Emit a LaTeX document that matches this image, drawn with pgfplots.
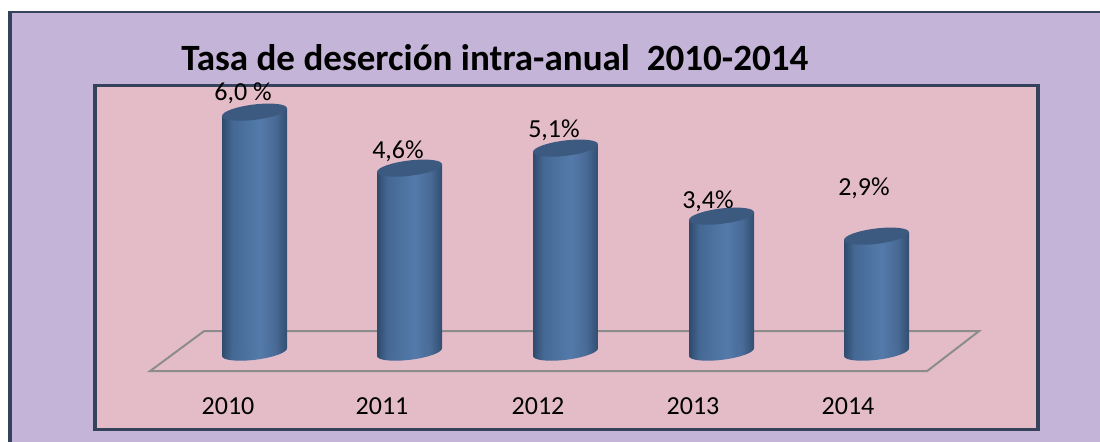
\documentclass[border=0pt]{standalone}
\usepackage{pgfplots}
\pgfplotsset{compat=1.18}
\usepackage{fontspec}
\setmainfont{Carlito}
\definecolor{lav}{RGB}{196,181,216}
\definecolor{rosa}{RGB}{227,188,200}
\definecolor{marco}{RGB}{52,66,92}
\definecolor{piso}{RGB}{140,140,140}
\definecolor{capc}{RGB}{60,90,128}
\definecolor{cyA}{RGB}{47,74,108}
\definecolor{cyB}{RGB}{69,104,148}
\definecolor{cyC}{RGB}{78,116,162}
\definecolor{cyD}{RGB}{84,122,171}
\definecolor{cyE}{RGB}{72,106,150}
\definecolor{cyF}{RGB}{50,78,112}
\pgfdeclarehorizontalshading{cyl}{100bp}{
  color(0bp)=(cyA);
  color(25bp)=(cyA);
  color(33bp)=(cyB);
  color(46bp)=(cyC);
  color(54bp)=(cyD);
  color(66bp)=(cyE);
  color(75bp)=(cyF);
  color(100bp)=(cyF)}
% tilted ellipses, 1 px = 0.75 pt
\pgfdeclareplotmark{topcap}{%
  \pgfpathellipse{\pgfpointorigin}{\pgfpoint{24.37pt}{3pt}}{\pgfpoint{-0.7pt}{5.7pt}}%
  \pgfusepathqfill}
\pgfdeclareplotmark{basecap}{%
  \pgfpathellipse{\pgfpointorigin}{\pgfpoint{24.37pt}{3pt}}{\pgfpoint{-0.7pt}{5.7pt}}%
  \pgfshadepath{cyl}{0}\pgfusepath{discard}}
\begin{document}
\begin{tikzpicture}
% background, in image pixels
\begin{axis}[at={(0,0)},anchor=south west,scale only axis,width=825pt,height=330.75pt,
  xmin=0,xmax=1100,ymin=0,ymax=441,y dir=reverse,hide axis]
\addplot[fill=white,draw=none] coordinates {(0,0)(1100,0)(1100,441)(0,441)} -- cycle;
\addplot[fill=lav,draw=none] coordinates {(10,12)(1120,12)(1120,460)(10,460)} -- cycle;
\addplot[draw=marco,line width=3pt] coordinates {(10,460)(10,11)};
\addplot[draw=marco,line width=1.6pt] coordinates {(8,12)(1120,12)};
\addplot[fill=rosa,draw=marco,line width=2.3pt] coordinates {(95,85)(1038,85)(1038,429)(95,429)} -- cycle;
\addplot[draw=piso,line width=1.5pt] coordinates {(150,371)(927,371)(979,331)(204,331)} -- cycle;
\end{axis}
% cylinders, y in percent
\begin{axis}[at={(0,0)},anchor=south west,scale only axis,width=825pt,height=330.75pt,
  xmin=0,xmax=1100,ymin=-2.225,ymax=8.8,clip=false,
  axis line style={draw=none},major tick length=0pt,ytick=\empty,
  xtick={228,382,538,693,848},
  xticklabels={2010,2011,2012,2013,2014},
  xticklabel style={anchor=base,yshift=20.25pt,font=\fontsize{19.5pt}{22pt}\selectfont},
  ]
\addplot[only marks,mark=basecap] coordinates {(254.5,0)(409.5,0)(565.5,0)(721.5,0)(876.5,0)};
\addplot[draw=none,shade,shading=cyl] coordinates {(222,5.9)(287,6.1)(287,0.1)(222,-0.1)} -- cycle;
\addplot[draw=none,shade,shading=cyl] coordinates {(377,4.5)(442,4.7)(442,0.1)(377,-0.1)} -- cycle;
\addplot[draw=none,shade,shading=cyl] coordinates {(533,5.0)(598,5.2)(598,0.1)(533,-0.1)} -- cycle;
\addplot[draw=none,shade,shading=cyl] coordinates {(689,3.3)(754,3.5)(754,0.1)(689,-0.1)} -- cycle;
\addplot[draw=none,shade,shading=cyl] coordinates {(844,2.8)(909,3.0)(909,0.1)(844,-0.1)} -- cycle;
\addplot[only marks,mark=topcap,mark options={fill=capc,draw=none},color=capc]
  coordinates {(254.5,6.0)(409.5,4.6)(565.5,5.1)(721.5,3.4)(876.5,2.9)};
\node[anchor=base west,font=\fontsize{27.8pt}{32pt}\selectfont\bfseries,inner sep=0pt]
  at (axis cs:181,7.05) {Tasa de deserción intra-anual\ \ 2010-2014};
\begin{scope}[every node/.style={anchor=base,inner sep=0pt,font=\fontsize{19.5pt}{22pt}\selectfont}]
\node at (axis cs:243,6.3) {6,0 \%};
\node at (axis cs:398,4.85) {4,6\%};
\node at (axis cs:554,5.375) {5,1\%};
\node at (axis cs:708,3.6) {3,4\%};
\node at (axis cs:864,3.925) {2,9\%};
\end{scope}
\end{axis}
\end{tikzpicture}
\end{document}
